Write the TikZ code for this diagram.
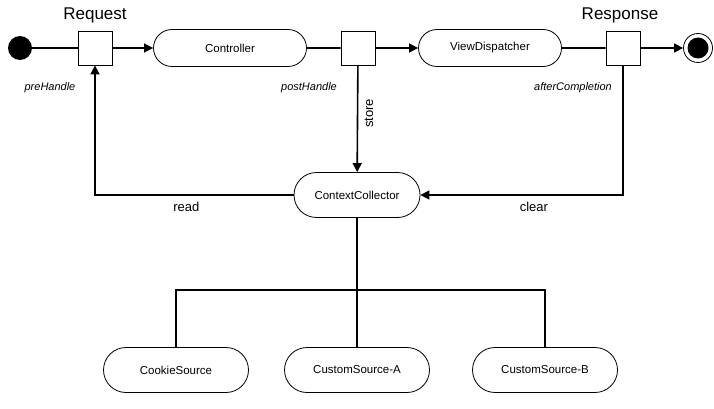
\documentclass[tikz,border=0pt]{standalone}
\usepackage{fontspec}
\setmainfont{Liberation Sans}
\usetikzlibrary{arrows.meta}
\usetikzlibrary{shapes.misc}

\begin{document}
\begin{tikzpicture}[x=1pt, y=-1pt, every node/.style={font=\fontsize{11.5}{13}\selectfont},
	state/.style={draw, rounded rectangle, line width=0.8pt, minimum width=#1, minimum height=37pt, inner sep=0pt},
	hook/.style={draw, rectangle, line width=0.8pt, minimum size=34pt, inner sep=0pt},
	flow/.style={line width=1.6pt, -{Triangle[length=9pt, width=9pt]}},
	wire/.style={line width=1.6pt},
	phase/.style={font=\fontsize{11}{13}\selectfont\itshape},
	edgetext/.style={font=\fontsize{13}{15}\selectfont},
	title/.style={font=\fontsize{17}{19}\selectfont}]
	\useasboundingbox (0,0) rectangle (714,409);

	\node[circle, fill=black, minimum size=24pt, inner sep=0pt](start) at (20,48){};
	\node[hook](pre) at (95,48){};
	\node[state=153pt](ctrl) at (230,48){Controller};
	\node[hook](post) at (358,48){};
	\node[state=143pt](view) at (490,48){ViewDispatcher};
	\node[hook](resp) at (623,48){};
	\node[circle, draw, line width=0.8pt, minimum size=29pt, inner sep=0pt](stop) at (698,48){};
	\node[circle, fill=black, minimum size=21pt, inner sep=0pt] at (stop){};

	\node[title](reqlabel) at (95,15){Request};
	\node[title](resplabel) at (620,15){Response};
	\node[phase](prelabel) at (50,88){preHandle};
	\node[phase](postlabel) at (309,88){postHandle};
	\node[phase](afterlabel) at (573,88){afterCompletion};

	\node[state=126pt, minimum height=45pt](ctx) at (357,195){ContextCollector};
	\node[state=145pt, minimum height=45pt](cookie) at (176,370){CookieSource};
	\node[state=145pt, minimum height=45pt](srca) at (357,370){CustomSource-A};
	\node[state=145pt, minimum height=45pt](srcb) at (545,370){CustomSource-B};
	\coordinate(fork) at (357,290);

	% main flow
	\draw[wire] (start) -- (pre);
	\draw[flow] (pre) -- (ctrl);
	\draw[wire] (ctrl) -- (post);
	\draw[flow] (post) -- (view);
	\draw[wire] (view) -- (resp);
	\draw[flow] (resp) -- (stop);

	% context handling
	\draw[flow] (post) -- node[pos=0.45, rotate=90, anchor=north, yshift=-3pt, edgetext]{store} (ctx);
	\draw[flow] (ctx.west) -| node[pos=0.27, below=3pt, edgetext]{read} (pre);
	\draw[flow] (resp) |- node[pos=0.72, below=3pt, edgetext]{clear} (ctx.east);

	% sources
	\draw[wire] (ctx) -- (fork);
	\draw[wire] (fork) -| (cookie);
	\draw[wire] (fork) -| (srcb);
	\draw[wire] (fork) -- (srca);
\end{tikzpicture}
\end{document}
